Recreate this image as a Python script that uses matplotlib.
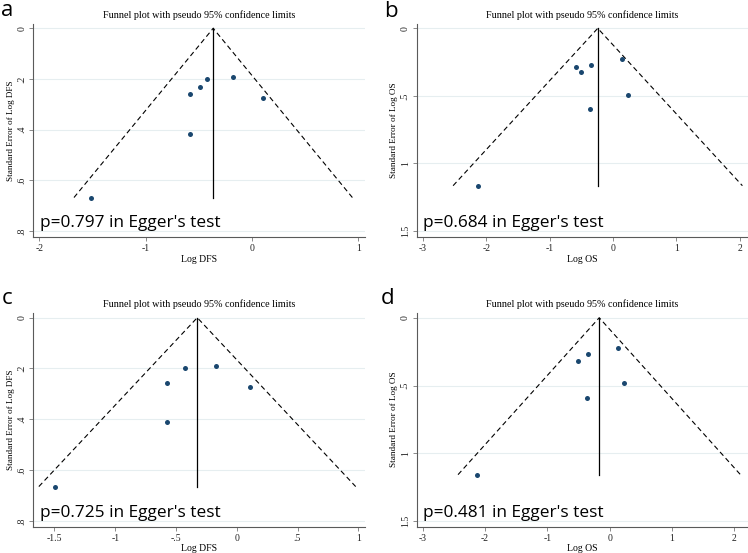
#Funnel plots (pseudo 95% limits) for DFS and OS, four panels
import matplotlib
matplotlib.use('Agg')
import matplotlib.pyplot as plt

#panel a - log DFS
a_effect = [-1.514, -0.580, -0.580, -0.492, -0.426, -0.176, 0.107]
a_se = [0.668, 0.258, 0.416, 0.230, 0.200, 0.191, 0.274]
a_center = -0.364

#panel b - log OS
b_effect = [-2.126, -0.584, -0.511, -0.342, -0.358, 0.137, 0.242]
b_se = [1.165, 0.286, 0.321, 0.274, 0.595, 0.227, 0.491]
b_center = -0.242

#panel c - log DFS
c_effect = [-1.492, -0.574, -0.574, -0.423, -0.169, 0.107]
c_se = [0.665, 0.256, 0.412, 0.198, 0.189, 0.271]
c_center = -0.325

#panel d - log OS
d_effect = [-2.123, -0.513, -0.348, -0.364, 0.134, 0.235]
d_se = [1.158, 0.320, 0.270, 0.590, 0.224, 0.484]
d_center = -0.166

a_xticks = [-2, -1, 0, 1]
b_xticks = [-3, -2, -1, 0, 1, 2]
c_xticks = [-1.5, -1, -0.5, 0, 0.5, 1]
d_xticks = [-3, -2, -1, 0, 1, 2]
dfs_yticks = [0, 0.2, 0.4, 0.6, 0.8]
os_yticks = [0, 0.5, 1, 1.5]

p_texts = ["p=0.797 in Egger's test", "p=0.684 in Egger's test",
           "p=0.725 in Egger's test", "p=0.481 in Egger's test"]
panel_letters = ['a', 'b', 'c', 'd']

W, H = 748, 553
SERIF = 'Liberation Serif'
SANS = 'Open Sans'
MARKER_COLOR = '#1a476f'
GRID_COLOR = '#e6eef0'
SPINE_COLOR = '#5a5a5a'


def stata_label(v):
    #stata drops the leading zero: .5, -.5
    s = ('%g' % v)
    if s.startswith('0.'):
        s = s[1:]
    elif s.startswith('-0.'):
        s = '-' + s[2:]
    return s


def px_axes(fig, left, top, right, bottom):
    return fig.add_axes([left / W, 1 - bottom / H, (right - left) / W, (bottom - top) / H])


def funnel(ax, effect, se, center, xticks, yticks, xlim, ylim, name):
    max_se = max(se)
    half = 1.96 * max_se

    ax.plot([center - half, center, center + half], [max_se, 0, max_se],
            color='black', linestyle=(0, (4.5, 3)), linewidth=0.8, zorder=2)
    ax.plot([center, center], [0, max_se], color='black', linewidth=0.9, zorder=2)
    ax.plot(effect, se, 'o', color=MARKER_COLOR, markersize=3.6,
            markeredgewidth=0, zorder=3)

    ax.set_xlim(xlim)
    ax.set_ylim(ylim)  #inverted: top value first

    ax.set_xticks(xticks)
    ax.set_xticklabels([stata_label(v) for v in xticks])
    ax.set_yticks(yticks)
    ax.set_yticklabels([stata_label(v) for v in yticks], rotation=90, va='center')

    for lab in ax.get_xticklabels() + ax.get_yticklabels():
        lab.set_fontfamily(SERIF)
        lab.set_fontsize(7)
        lab.set_color('#222222')

    ax.tick_params(axis='both', length=3, width=0.6, color='#777777', pad=2)

    for side in ['top', 'right']:
        ax.spines[side].set_visible(False)
    for side in ['left', 'bottom']:
        ax.spines[side].set_color(SPINE_COLOR)
        ax.spines[side].set_linewidth(0.8)

    ax.yaxis.grid(True, color=GRID_COLOR, linewidth=0.8)
    ax.set_axisbelow(True)

    ax.set_title('Funnel plot with pseudo 95% confidence limits',
                 fontfamily=SERIF, fontsize=7.3, pad=4)
    ax.set_xlabel('Log ' + name, fontfamily=SERIF, fontsize=7, labelpad=1)
    ax.set_ylabel('Standard Error of Log ' + name, fontfamily=SERIF, fontsize=6.6, labelpad=2)


fig = plt.figure(figsize=(W / 100, H / 100), dpi=100)

ax_a = px_axes(fig, 33.3, 24, 365, 237.3)
ax_b = px_axes(fig, 416.7, 24, 748, 237.3)
ax_c = px_axes(fig, 33.3, 312.6, 365, 526.7)
ax_d = px_axes(fig, 416.7, 312.6, 748, 526.7)

funnel(ax_a, a_effect, a_se, a_center, a_xticks, dfs_yticks, (-2.056, 1.064), (0.825, -0.017), 'DFS')
funnel(ax_b, b_effect, b_se, b_center, b_xticks, os_yticks, (-3.1, 2.13), (1.547, -0.032), 'OS')
funnel(ax_c, c_effect, c_se, c_center, c_xticks, dfs_yticks, (-1.674, 1.055), (0.823, -0.02), 'DFS')
funnel(ax_d, d_effect, d_se, d_center, d_xticks, os_yticks, (-3.1, 2.225), (1.542, -0.038), 'OS')

for ax, txt in zip([ax_a, ax_b, ax_c, ax_d], p_texts):
    ax.text(0.02, 0.065, txt, transform=ax.transAxes, fontfamily=SANS,
            fontsize=12.4, va='center', ha='left', zorder=4)

#panel letters
letter_pos = [(1, 16), (384, 17), (2, 304), (381, 304)]
for letter, (x, y) in zip(panel_letters, letter_pos):
    fig.text(x / W, 1 - y / H, letter, fontfamily=SANS, fontsize=16,
             ha='left', va='baseline')

fig.savefig('out.png', dpi=100)
